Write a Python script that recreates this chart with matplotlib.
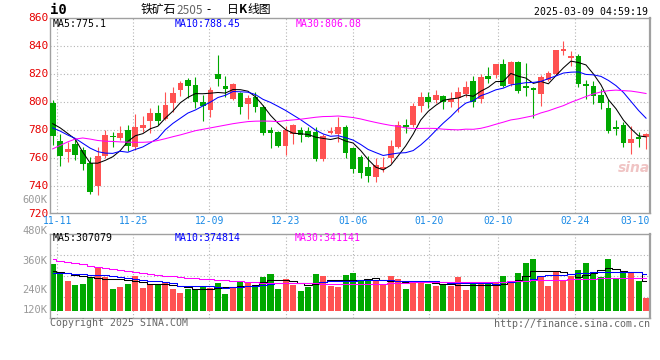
import matplotlib
matplotlib.use("Agg")
import matplotlib.pyplot as plt
import numpy as np

# ---- data (80 daily candles, 2024-11-07 .. 2025-03-07) ----
date_labels = ["11-11", "11-25", "12-09", "12-23", "01-06", "01-20", "02-10", "02-24"]
last_label = "03-10"

opens = [799.5, 772.1, 764.5, 770.0, 765.7, 756.2, 740.0, 761.4, 775.5, 774.5,
         780.0, 768.1, 781.2, 786.7, 792.4, 787.9, 799.0, 808.6, 815.7, 812.1,
         800.2, 794.3, 820.0, 811.4, 802.1, 806.2, 798.6, 803.8, 796.7, 780.0,
         778.6, 768.6, 776.9, 780.0, 779.5, 778.8, 759.3, 778.1, 776.9, 781.9,
         766.9, 760.5, 753.8, 746.7, 751.9, 759.8, 768.1, 783.6, 783.6, 797.4,
         803.8, 801.4, 804.3, 800.2, 802.6, 805.7, 815.0, 802.1, 818.6, 819.5,
         827.4, 812.9, 828.8, 811.4, 810.0, 806.0, 816.0, 819.8, 836.2, 831.5,
         832.6, 813.2, 811.6, 805.3, 796.0, 781.9, 783.6, 771.0, 774.8, 774.8]
highs = [801.5, 777.0, 771.7, 774.0, 768.1, 760.5, 768.1, 780.0, 778.6, 782.9,
         783.6, 791.4, 790.0, 795.5, 797.9, 807.4, 811.0, 815.0, 817.4, 817.6,
         805.0, 811.0, 833.6, 818.6, 813.8, 807.4, 805.0, 807.4, 797.9, 781.9,
         779.5, 782.9, 784.3, 782.4, 782.4, 781.9, 777.1, 781.9, 789.0, 783.6,
         767.5, 762.1, 761.4, 759.8, 761.0, 772.9, 786.4, 787.9, 799.0, 807.4,
         806.9, 808.6, 805.0, 807.4, 811.0, 815.0, 818.6, 820.0, 825.2, 827.5,
         830.5, 829.3, 829.0, 827.6, 810.5, 819.0, 822.0, 837.5, 843.8, 836.4,
         834.2, 815.5, 815.0, 809.0, 801.9, 787.1, 786.0, 782.9, 778.8, 777.6]
lows = [769.0, 754.0, 757.4, 758.6, 751.4, 734.3, 733.6, 759.8, 767.6, 772.9,
        765.2, 765.7, 778.8, 778.0, 783.6, 787.1, 793.1, 804.3, 802.6, 795.5,
        786.4, 789.5, 811.4, 803.3, 801.4, 791.4, 787.9, 793.1, 776.4, 767.4,
        768.1, 762.1, 769.8, 771.7, 774.8, 758.1, 758.1, 776.9, 771.2, 759.8,
        749.5, 745.5, 743.1, 743.1, 750.2, 756.7, 766.9, 778.1, 782.4, 793.1,
        795.5, 799.5, 794.8, 796.2, 793.1, 803.3, 796.7, 799.0, 813.3, 817.0,
        810.5, 811.4, 806.2, 804.5, 788.5, 797.5, 815.0, 819.0, 833.5, 825.7,
        811.0, 802.0, 798.6, 795.0, 777.6, 776.2, 767.6, 762.9, 768.1, 766.2]
closes = [775.5, 761.4, 766.4, 762.1, 755.7, 736.0, 761.4, 776.4, 775.0, 777.6,
          768.8, 781.9, 783.6, 792.4, 786.7, 797.9, 806.7, 813.8, 811.4, 800.2,
          797.4, 808.6, 816.4, 809.3, 812.9, 796.7, 803.1, 796.7, 778.1, 778.1,
          768.6, 780.0, 783.6, 776.4, 775.2, 759.3, 775.7, 779.5, 782.4, 763.8,
          751.9, 749.5, 747.1, 755.0, 753.8, 768.6, 783.6, 781.9, 797.4, 803.8,
          800.0, 805.0, 800.0, 802.1, 807.1, 811.0, 800.2, 817.9, 816.4, 827.4,
          811.4, 828.8, 807.9, 810.0, 808.6, 818.0, 820.5, 836.8, 837.9, 833.0,
          813.0, 811.6, 804.4, 799.3, 779.5, 781.0, 771.0, 773.6, 773.8, 777.1]

ma5 = [784.5, 781.5, 777.5, 773.5, 764.2, 756.3, 756.3, 758.3, 760.9, 765.3,
       771.8, 775.9, 777.4, 780.9, 782.7, 788.5, 793.5, 799.5, 803.3, 806.0,
       805.9, 806.3, 806.8, 806.4, 808.9, 808.8, 807.7, 803.7, 797.5, 790.5,
       784.9, 780.3, 777.7, 777.3, 776.8, 774.9, 774.0, 773.2, 774.4, 772.1,
       770.7, 765.4, 758.9, 753.5, 751.5, 754.8, 761.6, 768.6, 777.1, 787.1,
       793.3, 797.6, 801.2, 802.2, 802.8, 805.0, 804.1, 807.7, 810.5, 814.6,
       814.7, 820.4, 818.4, 817.1, 813.3, 814.7, 813.0, 818.8, 824.4, 829.2,
       828.2, 826.5, 820.0, 812.3, 801.6, 795.2, 787.0, 780.9, 775.8, 775.1]
ma10 = [781.5, 779.2, 776.4, 774.0, 770.5, 767.0, 764.5, 763.5, 763.3, 764.8,
        764.1, 766.1, 767.9, 770.9, 774.0, 780.2, 784.7, 788.4, 792.1, 794.3,
        797.2, 799.9, 803.2, 804.8, 807.5, 807.3, 807.0, 805.3, 801.9, 799.7,
        796.9, 794.0, 790.7, 787.4, 783.7, 779.9, 777.2, 775.5, 775.9, 774.5,
        772.8, 769.7, 766.1, 763.9, 761.8, 762.7, 763.5, 763.8, 765.3, 769.3,
        774.1, 779.6, 784.9, 789.6, 795.0, 799.2, 800.9, 804.5, 806.4, 808.7,
        809.9, 812.2, 813.0, 813.8, 814.0, 814.7, 816.7, 818.6, 820.7, 821.3,
        821.5, 819.7, 819.4, 818.3, 815.4, 811.7, 806.8, 800.4, 794.0, 788.45]
ma30 = [766.5, 769.0, 771.5, 773.5, 774.3, 773.5, 772.5, 772.0, 771.8, 771.5,
        771.3, 771.2, 771.2, 771.5, 772.5, 773.8, 775.2, 776.5, 778.0, 779.5,
        780.5, 781.5, 782.5, 783.5, 784.5, 785.3, 786.0, 786.3, 786.4, 786.3,
        786.0, 786.7, 787.2, 787.7, 788.4, 789.1, 789.6, 789.7, 790.0, 789.5,
        788.9, 787.9, 786.6, 785.4, 784.3, 783.3, 782.6, 781.5, 781.0, 781.1,
        781.2, 781.1, 780.6, 780.3, 780.1, 780.6, 780.5, 781.2, 782.5, 784.1,
        785.6, 787.2, 788.0, 789.1, 790.2, 792.2, 793.7, 795.6, 797.4, 799.8,
        801.8, 803.9, 805.8, 807.2, 808.1, 808.5, 808.1, 807.8, 807.0, 806.08]

# volume in thousands (K)
volume = [482, 394, 305, 264, 274, 349, 435, 349, 223, 244,
          278, 359, 233, 261, 261, 288, 223, 182, 226, 226,
          244, 233, 288, 172, 233, 305, 288, 264, 346, 377,
          223, 326, 264, 203, 244, 377, 359, 257, 247, 367,
          390, 315, 305, 315, 264, 356, 326, 223, 298, 288,
          271, 254, 271, 254, 343, 213, 288, 295, 282, 295,
          356, 282, 390, 493, 530, 356, 254, 408, 305, 359,
          418, 493, 397, 349, 530, 326, 384, 394, 305, 134]
vol_ma5 = [409, 401, 382, 367, 358, 344, 334, 330, 330, 325,
           315, 301, 291, 277, 272, 272, 265, 251, 239, 228,
           228, 228, 236, 244, 247, 249, 251, 263, 291, 313,
           313, 313, 306, 282, 262, 277, 291, 320, 320, 320,
           320, 320, 329, 338, 320, 306, 301, 297, 297, 294,
           291, 286, 277, 272, 265, 262, 262, 265, 267, 269,
           272, 291, 313, 358, 406, 406, 406, 406, 396, 372,
           347, 367, 392, 415, 440, 429, 406, 399, 399, 307]
vol_ma10 = [392, 389, 385, 381, 377, 371, 371, 363, 353, 344,
            334, 330, 320, 303, 301, 297, 282, 253, 251, 251,
            251, 251, 244, 238, 240, 246, 251, 258, 269, 277,
            286, 286, 286, 286, 286, 286, 291, 303, 303, 303,
            310, 318, 320, 320, 315, 313, 310, 308, 306, 306,
            306, 301, 291, 286, 286, 286, 286, 285, 282, 279,
            291, 297, 303, 310, 329, 354, 363, 367, 371, 377,
            387, 392, 396, 396, 399, 399, 399, 399, 399, 375]
vol_ma30 = [528, 515, 502, 490, 477, 463, 450, 440, 430, 420,
            410, 399, 386, 374, 367, 360, 353, 346, 340, 335,
            330, 324, 318, 312, 306, 302, 298, 294, 289, 289,
            288, 288, 287, 286, 284, 282, 279, 276, 276, 276,
            277, 277, 278, 278, 279, 282, 285, 288, 291, 294,
            297, 297, 297, 297, 297, 297, 297, 297, 297, 297,
            300, 303, 306, 310, 313, 315, 316, 318, 320, 323,
            325, 328, 330, 332, 334, 336, 338, 341, 341, 341]

price_labels = [860, 840, 820, 800, 780, 760, 740, 720]
vol_labels = ["480K", "360K", "240K", "120K"]

# ---- layout ----
W, H = 660.0, 360.0
MONO = "DejaVu Sans Mono"
CJK = ["Noto Sans CJK SC", "DejaVu Sans"]
RED = "#ff5252"
GREEN = "#00a800"
GRID = "#b4b4b4"
DOT = (0, (1, 2))

def box(l, t, r, b):
    return [l / W, 1 - b / H, (r - l) / W, (b - t) / H]

def ftext(px, py, s, **kw):
    fig.text(px / W, 1 - py / H, s, va="center", **kw)

o = np.array(opens); hi = np.array(highs); lo = np.array(lows); c = np.array(closes)
x = np.arange(len(c))
cols = np.where(c >= o, RED, GREEN)

fig = plt.figure(figsize=(6.6, 3.6), dpi=100)
fig.patch.set_facecolor("white")
axp = fig.add_axes(box(50, 18.3, 650, 213))
axv = fig.add_axes(box(50, 234.3, 650, 318.3))

xlim = (-0.36, 79.53)
date_pos = [0.61, 10.73, 20.85, 31.03, 40.03, 50.15, 59.34, 69.55]

for ax in (axp, axv):
    ax.set_xlim(*xlim)
    ax.set_xticks([])
    ax.set_yticks([])
    for s in ax.spines.values():
        s.set_color("#a0a0a0")
        s.set_linewidth(1.0)
    ax.spines["right"].set_linewidth(1.6)
    for p in date_pos:
        ax.axvline(p, color=GRID, lw=0.8, ls=DOT, zorder=0.5)

# ---- price panel ----
axp.set_ylim(720.7, 859.8)
for v in price_labels[1:-1]:
    axp.axhline(v, color=GRID, lw=0.8, ls=DOT, zorder=0.5)

axp.vlines(x, lo, hi, colors=cols, lw=0.8, zorder=2)
axp.bar(x, np.maximum(np.abs(c - o), 0.7), bottom=np.minimum(o, c), width=0.76,
        color=cols, linewidth=0, zorder=3)
axp.plot(x, ma5, color="black", lw=0.75, zorder=4)
axp.plot(x, ma10, color="#0000ff", lw=0.75, zorder=4)
axp.plot(x, ma30, color="#ff00ff", lw=0.75, zorder=4)

for v in price_labels:
    axp.text(-0.003, v, str(v), transform=axp.get_yaxis_transform(), ha="right",
             va="center", color="#e60000", fontsize=8, family=MONO, clip_on=False)

xt = axp.get_xaxis_transform()
for p, lab in zip(date_pos, date_labels):
    axp.text(p, -0.04, lab, transform=xt, ha="center", va="center",
             color="#1a8ae6", fontsize=7, family=MONO, clip_on=False)
axp.text(xlim[1], -0.04, last_label, transform=xt, ha="right", va="center",
         color="#1a8ae6", fontsize=7, family=MONO, clip_on=False)

# ---- volume panel ----
vlo, vhi = -76.8, 783.4
axv.set_ylim(vlo, vhi)
for f in (0.25, 0.5, 0.75):
    axv.axhline(vlo + (vhi - vlo) * f, color=GRID, lw=0.8, ls=DOT, zorder=0.5)
axv.bar(x, volume, width=0.8, color=cols, linewidth=0, zorder=2)
axv.plot(x, vol_ma5, color="black", lw=0.75, drawstyle="steps-mid", zorder=3)
axv.plot(x, vol_ma10, color="#0000ff", lw=0.75, drawstyle="steps-mid", zorder=3)
axv.plot(x, vol_ma30, color="#ff00ff", lw=0.75, drawstyle="steps-mid", zorder=3)

for py, lab in zip([231, 260.7, 290, 310], vol_labels):
    ftext(47.5, py, lab, ha="right", color="#999999", fontsize=7.5, family=MONO)
ftext(47, 200, "600K", ha="right", color="#999999", fontsize=7.5, family=MONO)

# ---- legends ----
ftext(53, 23.7, "MA5:775.1", color="black", fontsize=7.1, family=MONO)
ftext(175, 23.7, "MA10:788.45", color="#0000ff", fontsize=7.1, family=MONO)
ftext(296, 23.7, "MA30:806.08", color="#ff00ff", fontsize=7.1, family=MONO)
ftext(53, 238.3, "MA5:307079", color="black", fontsize=7.1, family=MONO)
ftext(175, 238.3, "MA10:374814", color="#0000ff", fontsize=7.1, family=MONO)
ftext(295, 238.3, "MA30:341141", color="#ff00ff", fontsize=7.1, family=MONO)

# ---- title / header / footer ----
ftext(50, 10.5, "i0", color="black", fontsize=10, weight="bold", family=MONO)
ftext(141, 9.5, "铁矿石", color="black", fontsize=8.5, family=CJK)
ftext(176.5, 10, "2505", color="#666666", fontsize=8.5, family=CJK)
ftext(206, 9.5, "-", color="black", fontsize=8.5, family=CJK)
ftext(227, 9.5, "日", color="black", fontsize=8.5, family=CJK)
ftext(238.5, 9.5, "K", color="black", fontsize=8.5, weight="bold", family=CJK)
ftext(247.5, 9.5, "线图", color="black", fontsize=8.5, family=CJK)
ftext(648, 11.7, "2025-03-09 04:59:19", ha="right", color="black", fontsize=7.1, family=MONO)

ftext(50, 323.3, "Copyright 2025 SINA.COM", color="#666666", fontsize=7.1, family=MONO)
ftext(650, 324, "http://finance.sina.com.cn", ha="right", color="#666666", fontsize=7.2, family=MONO)

# faint sina watermark
ftext(634, 168, "sina", ha="center", color="#f0c4c4", fontsize=10, style="italic",
      weight="bold", family="DejaVu Sans")

fig.savefig("out.png", dpi=100, facecolor="white")
